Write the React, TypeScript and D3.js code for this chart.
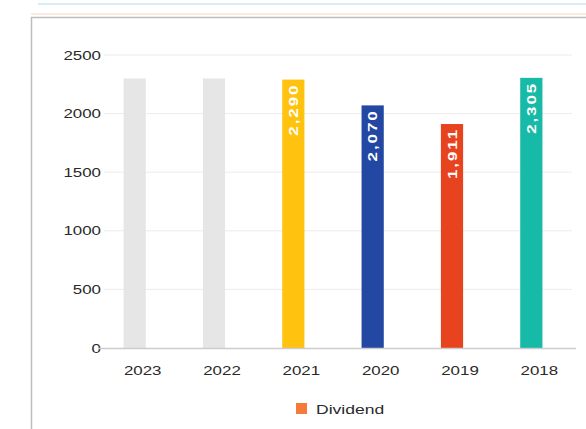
import React from "react";
import * as d3 from "d3";

const categories = ["2023", "2022", "2021", "2020", "2019", "2018"];
const values = [2300, 2300, 2290, 2070, 1911, 2305];
const valueLabels = ["", "", "2,290", "2,070", "1,911", "2,305"];
const barColors = ["#e6e6e6", "#e6e6e6", "#ffc20e", "#2348a3", "#e8431f", "#17b9a7"];
const yTicks = [0, 500, 1000, 1500, 2000, 2500];
const legendLabel = "Dividend";

const W = 586;
const H = 429;
const SX = 1.3;

export default function App() {
  const x = d3.scaleBand<string>().domain(categories).range([95, 571]).paddingInner(0.72).paddingOuter(0.36);
  const y = d3.scaleLinear().domain([0, 2500]).range([348, 55]);
  const font = "'Liberation Sans', Arial, sans-serif";
  return (
    <svg width={W} height={H} style={{ position: "absolute", left: 0, top: 0, background: "#fff" }}>
      <line x1={38} x2={W} y1={4} y2={4} stroke="#d8edf8" strokeWidth={2} />
      <line x1={31} x2={W} y1={14} y2={14} stroke="#fbeadf" strokeWidth={2} />
      <path d={`M31.5,${H} L31.5,17.5 L${W},17.5`} fill="none" stroke="#bdbdbd" strokeWidth={1.5} />
      {yTicks.map((t) => (
        <g key={t}>
          {t !== 0 && <line x1={104} x2={572} y1={y(t)} y2={y(t)} stroke="#ececec" strokeWidth={1} />}
          <text
            transform={`translate(101,${y(t)}) scale(${SX},1)`}
            dy="0.35em"
            textAnchor="end"
            fontFamily={font}
            fontSize={13}
            fill="#2a2a2a"
          >
            {t}
          </text>
        </g>
      ))}
      {categories.map((c, i) => {
        const bx = x(c)!;
        const by = y(values[i]);
        const cx = bx + x.bandwidth() / 2;
        return (
          <g key={c}>
            <rect x={bx} y={by} width={x.bandwidth()} height={y(0) - by} fill={barColors[i]} />
            {valueLabels[i] && (
              <text
                transform={`translate(${cx},${by + 4}) rotate(-90) scale(${SX},1)`}
                textAnchor="end"
                dy="0.36em"
                fontFamily={font}
                fontSize={13}
                fontWeight="bold"
                letterSpacing={1.5}
                fill="#fff"
              >
                {valueLabels[i]}
              </text>
            )}
            <text
              transform={`translate(${cx + 8},375) scale(${SX},1)`}
              textAnchor="middle"
              fontFamily={font}
              fontSize={13}
              fill="#2a2a2a"
            >
              {c}
            </text>
          </g>
        );
      })}
      <line x1={98} x2={576} y1={y(0) + 0.5} y2={y(0) + 0.5} stroke="#cccccc" strokeWidth={1.5} />
      <rect x={296} y={403} width={11} height={11} fill="#f47b3a" />
      <text
        transform={`translate(316,409) scale(${SX},1)`}
        dy="0.35em"
        fontFamily={font}
        fontSize={13.5}
        fill="#2a2a2a"
      >
        {legendLabel}
      </text>
    </svg>
  );
}
